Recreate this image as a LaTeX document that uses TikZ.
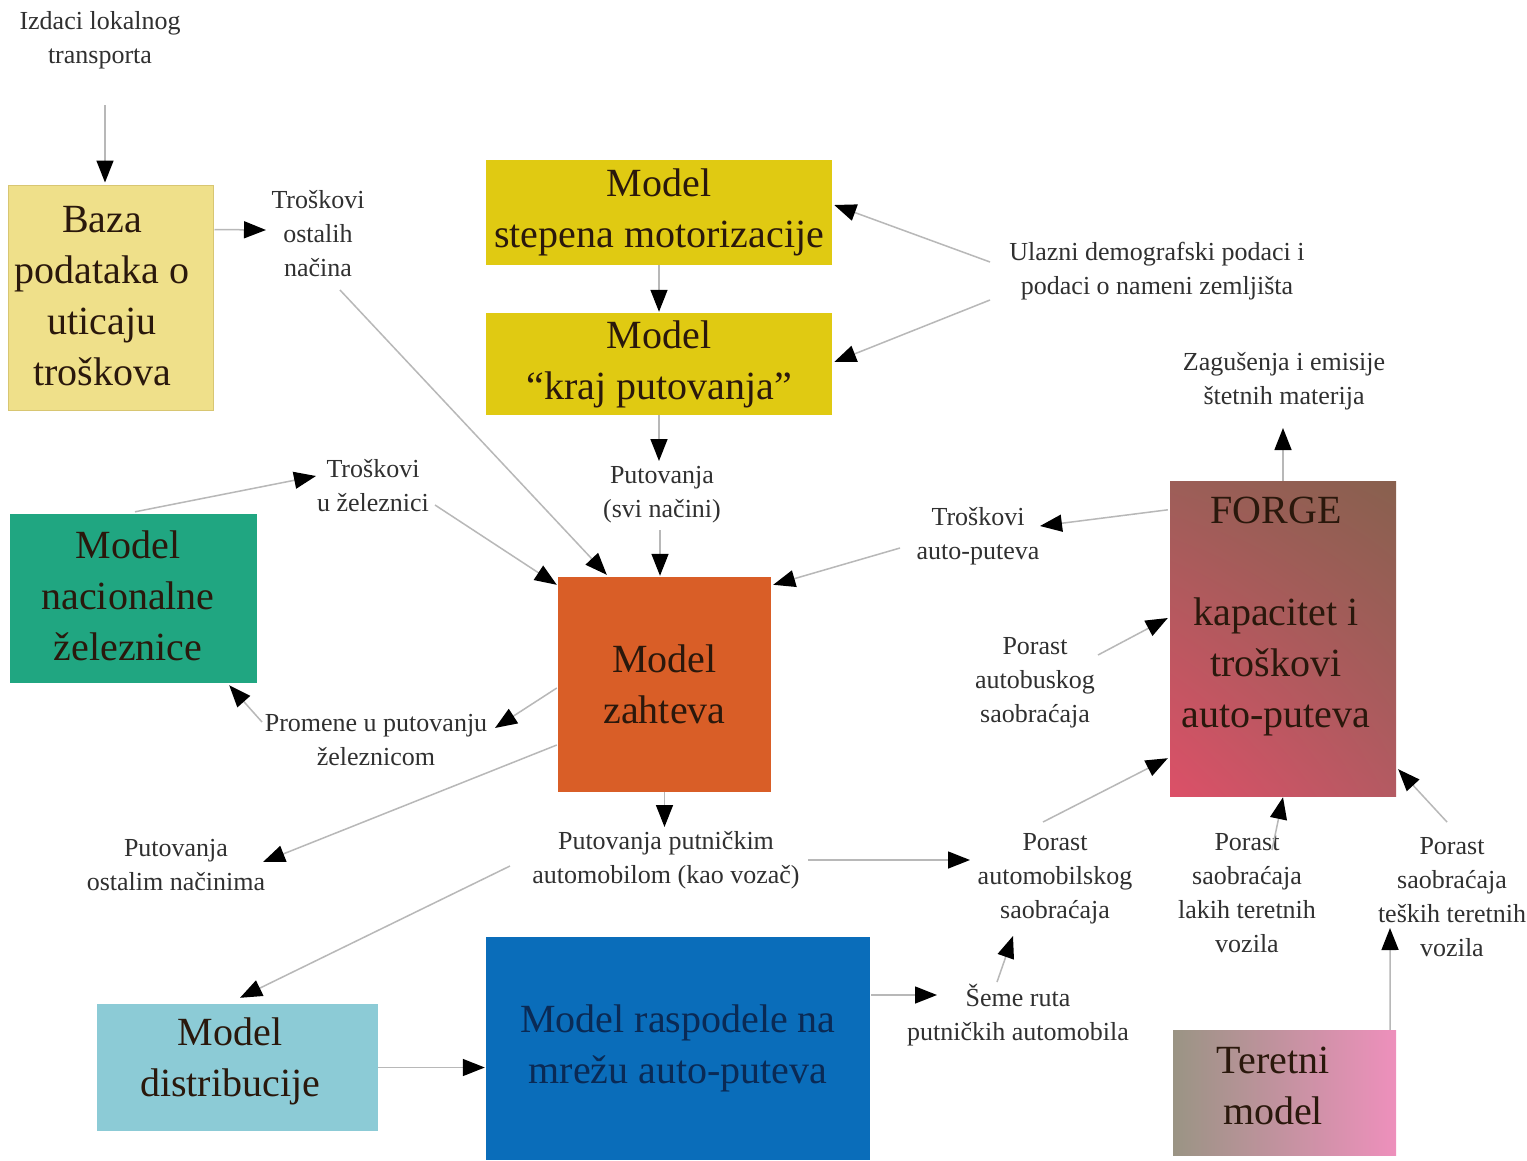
\documentclass[tikz,border=0pt]{standalone}
\usepackage{fontspec}
\setmainfont{Liberation Serif}
\usetikzlibrary{arrows.meta,calc,shadings}
\definecolor{bazafill}{HTML}{EFE08A}
\definecolor{bazaline}{HTML}{D8C672}
\definecolor{yelfill}{HTML}{E0CA12}
\definecolor{zelfill}{HTML}{20A681}
\definecolor{zahfill}{HTML}{D95E27}
\definecolor{disfill}{HTML}{8CCBD6}
\definecolor{rasfill}{HTML}{0A6DBA}
\definecolor{rastext}{HTML}{0A2A55}
\definecolor{boxtext}{HTML}{2A180C}
\definecolor{lbltext}{HTML}{303030}
\definecolor{linegray}{HTML}{B8B8B8}
\definecolor{fUL}{HTML}{9C5E58}
\definecolor{fUR}{HTML}{88604E}
\definecolor{fLL}{HTML}{DC5068}
\definecolor{fLR}{HTML}{B45A62}
\definecolor{tL}{HTML}{9A9484}
\definecolor{tM}{HTML}{D6A0AE}
\definecolor{tR}{HTML}{EE90BC}
\tikzset{
  box/.style={rectangle, inner sep=0pt, align=center, text=boxtext,
    font=\fontsize{40}{51}\selectfont},
  boxtxt/.style={inner sep=0pt, align=center, text=boxtext,
    font=\fontsize{40}{51}\selectfont},
  lbl/.style={inner sep=0pt, align=center, text=lbltext,
    font=\fontsize{26}{34}\selectfont},
  conn/.style={draw=linegray, line width=1.5pt,
    -{Triangle[length=22pt,width=17pt,color=black]}}
}
\begin{document}
\begin{tikzpicture}[x=1pt,y=-1pt]
\useasboundingbox (0,0) rectangle (1527,1160);
\fill[white] (0,0) rectangle (1527,1160);

% boxes
\node[box, fill=bazafill, draw=bazaline, line width=1pt, minimum width=205pt, minimum height=225pt] (baza) at (110.5,297.5) {};
\node[boxtxt] (bazatxt) at (102,296) {Baza\\podataka o\\uticaju\\troškova};
\node[box, fill=yelfill, minimum width=346pt, minimum height=105pt] (motor) at (659,212.5) {Model\\stepena motorizacije};
\node[box, fill=yelfill, minimum width=346pt, minimum height=102pt] (kraj) at (659,364) {Model\\“kraj putovanja”};
\node[box, fill=zelfill, minimum width=247pt, minimum height=169pt] (zel) at (133.5,598.5) {};
\node[boxtxt] (zeltxt) at (128,596) {Model\\nacionalne\\železnice};
\node[box, fill=zahfill, minimum width=213pt, minimum height=215pt] (zahteva) at (664.5,684.5) {Model\\zahteva};
\node[box, upper left=fUL, upper right=fUR, lower left=fLL, lower right=fLR, shade, minimum width=226pt, minimum height=315pt] (forge) at (1283,638.5) {};
\node[boxtxt] (forgetxt) at (1276,617) {FORGE\\[51pt]kapacitet i\\troškovi\\auto-puteva};
\node[box, fill=disfill, minimum width=281pt, minimum height=127pt] (distr) at (237.5,1067.5) {};
\node[boxtxt] (distrtxt) at (230,1061) {Model\\distribucije};
\node[box, fill=rasfill, text=rastext, minimum width=384pt, minimum height=223pt] (rasp) at (678,1048.5) {Model raspodele na\\mrežu auto-puteva};
\node[box, shade, left color=tL, middle color=tM, right color=tR, minimum width=223pt, minimum height=125pt] (teretni) at (1284.5,1092.5) {};
\node[boxtxt] (teretnitxt) at (1273,1086) {Teretni\\model};

% labels
\node[lbl] (izdaci) at (100,40) {Izdaci lokalnog\\transporta};
\node[lbl] (tost) at (318,234) {Troškovi\\ostalih\\načina};
\node[lbl] (ulazni) at (1157,271) {Ulazni demografski podaci i\\podaci o nameni zemljišta};
\node[lbl] (zagus) at (1284,381) {Zagušenja i emisije\\štetnih materija};
\node[lbl] (tzel) at (373,486) {Troškovi\\u železnici};
\node[lbl] (putsvi) at (662,495) {Putovanja\\(svi načini)};
\node[lbl] (tauto) at (978,536) {Troškovi\\auto-puteva};
\node[lbl] (pbus) at (1035,683) {Porast\\autobuskog\\saobraćaja};
\node[lbl] (promene) at (376,740) {Promene u putovanju\\železnicom};
\node[lbl] (postalim) at (176,865) {Putovanja\\ostalim načinima};
\node[lbl] (pputn) at (666,860) {Putovanja putničkim\\automobilom (kao vozač)};
\node[lbl] (pauto) at (1055,879) {Porast\\automobilskog\\saobraćaja};
\node[lbl] (plaki) at (1247,893) {Porast\\saobraćaja\\lakih teretnih\\vozila};
\node[lbl] (pteski) at (1452,897) {Porast\\saobraćaja\\teških teretnih\\vozila};
\node[lbl] (seme) at (1018,1015) {Šeme ruta\\putničkih automobila};

% connectors
\draw[conn] ($(izdaci)+(5,65)$) -- ($(baza.north)+(-5.5,-2)$);
\draw[conn] ($(baza.north east)+(1,45)$) -- ($(tost)+(-52,-4)$);
\draw[conn] ($(tost)+(22,56)$) -- ($(zahteva.north west)+(49,-2)$);
\draw[conn] (motor.south) -- ($(kraj.north)+(0,-1)$);
\draw[conn] ($(ulazni)+(-167,-9)$) -- ($(motor.east)+(2,-7.5)$);
\draw[conn] ($(ulazni)+(-167,29)$) -- ($(kraj.east)+(2,-2)$);
\draw[conn] (kraj.south) -- ($(putsvi)+(-3,-34)$);
\draw[conn] ($(putsvi)+(-2,35)$) -- ($(zahteva.north)+(-4.5,-1)$);
\draw[conn] ($(zel.north)+(1.5,-2)$) -- ($(tzel)+(-57,-10)$);
\draw[conn] ($(tzel)+(62,19)$) -- ($(zahteva.north west)+(-1,8)$);
\draw[conn] ($(tauto)+(-78,12)$) -- ($(zahteva.north east)+(2,8)$);
\draw[conn] ($(forge.north west)+(-2,29)$) -- ($(tauto)+(62,-10)$);
\draw[conn] (forge.north) -- ($(zagus)+(-1,47)$);
\draw[conn] ($(pbus)+(63,-28)$) -- ($(forge.west)+(-2,-20.5)$);
\draw[conn] ($(zahteva.west)+(-1,3.5)$) -- ($(promene)+(119,-12)$);
\draw[conn] ($(promene)+(-114,-18)$) -- ($(zel.south east)+(-28,2)$);
\draw[conn] ($(zahteva.west)+(-1,60.5)$) -- ($(postalim)+(87,-3)$);
\draw[conn] (zahteva.south) -- ($(pputn)+(-1.5,-33)$);
\draw[conn] ($(pputn)+(-156,6)$) -- ($(distr.north)+(2.5,-6)$);
\draw[conn] ($(pputn)+(142,0)$) -- ($(pauto)+(-85,-19)$);
\draw[conn] (distr.east) -- ($(rasp.west)+(-1,19)$);
\draw[conn] ($(rasp.east)+(1,-53.5)$) -- ($(seme)+(-81,-20)$);
\draw[conn] ($(seme)+(-21,-33)$) -- ($(pauto)+(-42,57)$);
\draw[conn] ($(pauto)+(-12,-57)$) -- ($(forge.south west)+(-2,-38)$);
\draw[conn] ($(plaki)+(25,-43)$) -- ($(forge.south)+(0,1)$);
\draw[conn] ($(pteski)+(-5,-75)$) -- ($(forge.south east)+(2,-27)$);
\draw[conn] ($(teretni.north east)+(-6,0)$) -- ($(pteski)+(-62,31)$);
\end{tikzpicture}
\end{document}
